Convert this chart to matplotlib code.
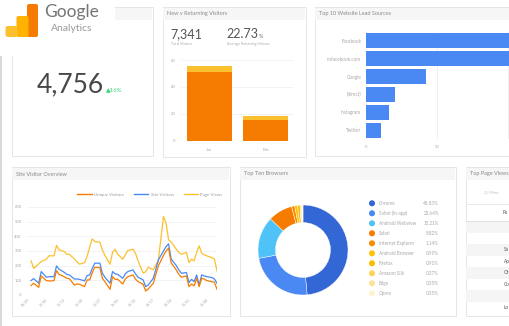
import matplotlib
matplotlib.use("Agg")
import matplotlib.pyplot as plt
from matplotlib.patches import Rectangle, FancyBboxPatch
from matplotlib.lines import Line2D

W, H = 510, 326
plt.rcParams['font.family'] = ['Lato', 'DejaVu Sans']

# =========================
# DATA
# =========================
headline_value = "4,756"
headline_change = "▲16%"
total_visitors = "7,341"
avg_returning = "22.73"

months = ["Jan", "Feb"]
new_visitors = [51, 15.5]
returning_visitors = [4.5, 3]

sources = ["Facebook", "m.facebook.com", "Google", "(direct)", "Instagram", "Twitter"]
source_counts = [125, 118, 42, 20.5, 16, 10.5]

browsers = ["Chrome", "Safari (in-app)", "Android Webview", "Safari", "Internet Explorer",
            "Android Browser", "Firefox", "Amazon Silk", "Edge", "Opera"]
browser_share = [48.83, 23.64, 15.21, 8.82, 1.14, 0.99, 0.91, 0.37, 0.35, 0.35]
browser_colors = ["#3367d6", "#4a89f3", "#4fc3f7", "#f57c00", "#fb8c00",
                  "#ffc107", "#fbbc04", "#ffd45c", "#ffe29a", "#fff3cf"]

days = [0, 1, 3, 4, 6, 7, 8, 9, 10, 11, 13, 14, 15, 17, 18, 19, 21, 22, 23, 24,
        25, 27, 28, 29, 31, 32, 33, 34, 36, 37, 38, 40, 41, 42, 44, 45, 46, 48, 49, 50,
        52, 53, 54, 55, 57, 58, 59, 61, 62, 63, 64, 65, 66, 67, 68, 69, 71, 72, 73]
page_views = [233, 182, 212, 228, 244, 267, 267, 267, 338, 308,
              297, 278, 278, 246, 228, 210, 221, 262, 326, 383,
              365, 360, 308, 270, 210, 290, 312, 278, 244, 274,
              303, 312, 285, 232, 150, 158, 189, 172, 205, 240,
              536, 490, 376, 360, 312, 290, 278, 290, 221, 244,
              233, 290, 335, 285, 274, 267, 255, 244, 164]
site_visitors = [98, 112, 80, 160, 121, 125, 125, 125, 198, 176,
                 155, 141, 137, 109, 109, 107, 96, 132, 137, 180,
                 217, 217, 148, 121, 80, 160, 144, 141, 114, 144,
                 160, 171, 144, 121, 103, 57, 68, 114, 176, 240,
                 300, 330, 349, 245, 201, 171, 148, 153, 84, 107,
                 91, 137, 68, 137, 130, 125, 119, 109, 80]
unique_visitors = [64, 80, 52, 130, 98, 96, 96, 98, 166, 141,
                   125, 114, 112, 68, 75, 73, 57, 103, 103, 150,
                   189, 187, 114, 91, 39, 125, 107, 107, 75, 109,
                   125, 137, 109, 91, 73, 27, 41, 80, 141, 200,
                   270, 300, 319, 220, 171, 141, 121, 130, 57, 75,
                   62, 114, 57, 114, 109, 98, 91, 87, 39]
tick_days = [0, 7, 14, 21, 28, 35, 42, 49, 56, 63, 70]
tick_dates = ["09/29", "10/06", "10/13", "10/20", "10/27", "11/03",
              "11/10", "11/17", "11/24", "12/01", "12/08"]

page_rows = ["", "", "Sa", "Ap", "Ot", "Co", "", "Lo"]

ORANGE = "#f57c00"
YELLOW = "#fbc02d"
BLUE = "#4a89f3"
GRID = "#eeeeee"
TICK = "#a8a8a8"

# =========================
# FIGURE + BACKGROUND LAYER (pixel coords)
# =========================
fig = plt.figure(figsize=(W / 100, H / 100), dpi=100)
bg = fig.add_axes([0, 0, 1, 1])
bg.set_xlim(0, W)
bg.set_ylim(H, 0)
bg.axis("off")


def box(x0, y0, x1, y1):
    return [x0 / W, 1 - y1 / H, (x1 - x0) / W, (y1 - y0) / H]


def panel(x0, y0, x1, y1, title):
    bg.add_patch(Rectangle((x0, y0), x1 - x0, y1 - y0, fc="white", ec="#e2e2e2", lw=0.6))
    bg.add_patch(Rectangle((x0 + 0.5, y0 + 0.5), x1 - x0 - 1, 12.5, fc="#f6f6f6", ec="none"))
    bg.text(x0 + 4, y0 + 7, title, fontsize=4, color="#8a8a8a", va="center")


def style(ax):
    for s in ax.spines.values():
        s.set_visible(False)
    ax.tick_params(length=0, labelsize=3, labelcolor=TICK)
    ax.set_axisbelow(True)


panel(12, 7, 153, 156, "")
panel(163, 7, 306, 157, "New v Returning Visitors")
panel(315, 7, 530, 156, "Top 10 Website Lead Sources")
panel(12, 167, 230, 316, "Site Visitor Overview")
panel(240, 167, 456, 316, "Top Ten Browsers")
panel(466, 167, 530, 316, "Top Page Views")

# left edge strip
bg.add_patch(Rectangle((0, 56), 2, H - 56, fc="#d9d9d9", ec="none"))

# logo area
bg.add_patch(Rectangle((0, 0), 115, 56, fc="white", ec="none", zorder=3))
bg.add_patch(FancyBboxPatch((27, 4), 11, 33, boxstyle="round,pad=0,rounding_size=2",
                            fc="#f57c00", ec="none", zorder=4))
bg.add_patch(FancyBboxPatch((16.5, 16), 12, 21, boxstyle="round,pad=0,rounding_size=2",
                            fc="#ffb300", ec="none", zorder=4))
bg.add_patch(FancyBboxPatch((5.5, 26), 12, 11, boxstyle="round,pad=0,rounding_size=2.5",
                            fc="#fbc02d", ec="none", zorder=4))
bg.text(44, 12.5, "Google", fontsize=12.5, color="#757575", va="center", zorder=5)
bg.text(51, 28.5, "Analytics", fontsize=7.5, color="#9a9a9a", va="center", zorder=5)

# headline number
bg.text(37, 85, headline_value, fontsize=19, color="#484848", va="center")
bg.text(106, 90, headline_change, fontsize=4.3, color="#34d17a", va="center")

# new v returning header numbers
bg.text(170, 34, total_visitors, fontsize=9, color="#555555", va="center")
bg.text(171, 44, "Total Visitors", fontsize=2.6, color="#aaaaaa", va="center")
bg.text(226, 34, avg_returning, fontsize=9, color="#555555", va="center")
bg.text(259, 36, "%", fontsize=4, color="#666666", va="center")
bg.text(227, 44, "Average Returning Visitors", fontsize=2.6, color="#aaaaaa", va="center")

# =========================
# STACKED BARS
# =========================
ax = fig.add_axes(box(181, 60, 294, 141))
style(ax)
ax.bar(range(len(months)), new_visitors, width=0.8, color=ORANGE)
ax.bar(range(len(months)), returning_visitors, bottom=new_visitors, width=0.8, color=YELLOW)
ax.set_xlim(-0.5, 1.5)
ax.set_ylim(0, 60)
ax.set_yticks([0, 20, 40, 60])
ax.set_xticks(range(len(months)))
ax.set_xticklabels(months)
ax.tick_params(axis="y", pad=4)
ax.tick_params(axis="x", pad=5)
ax.grid(axis="y", color=GRID, lw=0.5)

# =========================
# LEAD SOURCES
# =========================
ax = fig.add_axes(box(366, 32, 366 + 1.42 * 130, 139))
style(ax)
ax.barh(range(len(sources)), source_counts, height=0.84, color=BLUE)
ax.set_xlim(0, 130)
ax.set_ylim(len(sources) - 0.5, -0.5)
ax.set_yticks(range(len(sources)))
ax.set_yticklabels(sources, fontsize=3.3)
ax.set_xticks([0, 50])
ax.tick_params(axis="y", pad=3.5)
ax.tick_params(axis="x", pad=4)
ax.grid(axis="x", color=GRID, lw=0.6)
ax.axvline(100, color=GRID, lw=0.6, zorder=0)

# =========================
# SITE VISITOR OVERVIEW
# =========================
ax = fig.add_axes(box(28.5, 207, 217, 295))
style(ax)
ax.plot(days, page_views, color=YELLOW, lw=0.9)
ax.plot(days, site_visitors, color=BLUE, lw=0.9)
ax.plot(days, unique_visitors, color=ORANGE, lw=0.9)
ax.set_xlim(-1, 73)
ax.set_ylim(0, 600)
ax.set_yticks(range(0, 601, 100))
ax.set_xticks(tick_days)
ax.set_xticklabels(tick_dates, rotation=45, ha="right", fontsize=2.6)
ax.tick_params(axis="y", pad=5)
ax.tick_params(axis="x", pad=2)
ax.grid(axis="y", color=GRID, lw=0.5)
handles = [Line2D([], [], color=ORANGE, lw=1), Line2D([], [], color=BLUE, lw=1),
           Line2D([], [], color=YELLOW, lw=1)]
fig.legend(handles, ["Unique Visitors", "Site Visitors", "Page Views"],
           loc="center", bbox_to_anchor=(150 / W, 1 - 194.5 / H), ncol=3, frameon=False,
           fontsize=3.2, labelcolor="#9a9a9a", handlelength=3.2, columnspacing=2.2,
           handletextpad=0.6)

# =========================
# BROWSERS DONUT
# =========================
ax = fig.add_axes(box(258, 205, 348, 295))
ax.pie(browser_share, colors=browser_colors, startangle=90, counterclock=False, radius=1,
       wedgeprops=dict(width=0.39, edgecolor="white", linewidth=0.3))
ax.set_aspect("equal")
ax.set_xlim(-1, 1)
ax.set_ylim(-1, 1)

for i, (name, share, col) in enumerate(zip(browsers, browser_share, browser_colors)):
    yy = 203.3 + i * 10
    bg.scatter([372], [yy], s=19, color=col, edgecolors="none")
    bg.text(379, yy, name, fontsize=3.3, color="#a8a8a8", va="center")
    bg.text(439, yy, f"{share:.2f}%", fontsize=3.3, color="#a8a8a8", va="center", ha="right")

# =========================
# TOP PAGE VIEWS (cut off)
# =========================
bg.text(484, 192, "Q  Filter", fontsize=3, color="#bdbdbd", va="center")
bg.plot([466.5, W], [204, 204], color="#e0e0e0", lw=0.5)
bg.plot([466.5, W], [221, 221], color="#d6d6d6", lw=0.5)
bg.text(503, 212.5, "Pa", fontsize=3.4, color="#555555", va="center")
for i, label in enumerate(page_rows):
    y0 = 221 + i * 11.5
    if i % 2 == 0:
        bg.add_patch(Rectangle((466.5, y0), W - 466.5, 11.5, fc="#f5f5f5", ec="none"))
    if label:
        bg.text(504, y0 + 5.8, label, fontsize=3.4, color="#555555", va="center")

fig.savefig("out.png", dpi=100)
